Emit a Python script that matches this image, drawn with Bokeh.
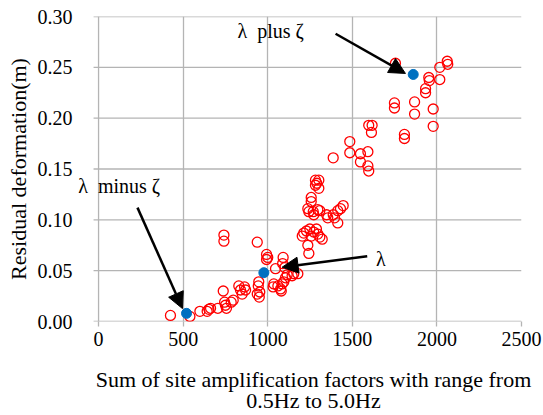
from bokeh.plotting import figure
from bokeh.models import Label, Arrow, NormalHead, FixedTicker, Span, LinearAxis
from bokeh.embed import file_html
from bokeh.resources import INLINE

# observed data (red open circles)
obs_x = [425, 540, 599, 642, 652, 662, 705, 737, 745, 750, 756, 784, 796,
         829, 839, 849, 863, 869, 944, 947, 953, 938, 950, 741, 741, 938,
         993, 1000, 993, 1046, 1091, 1088, 1101, 1036, 1032, 1085, 1076, 1080,
         1060, 1115, 1144, 1154, 1178, 1105, 1095,
         1204, 1213, 1229, 1249, 1257, 1272, 1288, 1296, 1308, 1322, 1237, 1243,
         1237, 1243, 1269, 1272, 1296, 1308, 1348, 1355, 1387, 1395, 1414, 1430,
         1446, 1414, 1257, 1257, 1282, 1302, 1282, 1302, 1290,
         1387, 1485, 1485, 1548, 1592, 1548, 1592, 1597, 1597, 1617, 1613,
         1808, 1808, 1749, 1749, 1868, 1868, 1978, 1978, 1933, 1933, 1952, 1955,
         2017, 2017, 2061, 2064, 1755]
obs_y = [0.006, 0.005, 0.010, 0.010, 0.012, 0.013, 0.013, 0.030, 0.019, 0.016, 0.013, 0.019, 0.021,
         0.035, 0.031, 0.027, 0.034, 0.031, 0.035, 0.039, 0.029, 0.027, 0.024, 0.085, 0.079, 0.078,
         0.066, 0.063, 0.061, 0.052, 0.063, 0.057, 0.053, 0.037, 0.034, 0.037, 0.032, 0.030,
         0.035, 0.046, 0.045, 0.047, 0.047, 0.043, 0.039,
         0.084, 0.087, 0.089, 0.091, 0.084, 0.088, 0.091, 0.086, 0.083, 0.081, 0.075, 0.067,
         0.111, 0.108, 0.108, 0.105, 0.110, 0.109, 0.105, 0.102, 0.105, 0.102, 0.109, 0.111,
         0.114, 0.097, 0.122, 0.118, 0.139, 0.139, 0.134, 0.131, 0.136,
         0.161, 0.177, 0.166, 0.165, 0.167, 0.157, 0.153, 0.148, 0.193, 0.193, 0.186,
         0.184, 0.180, 0.215, 0.210, 0.216, 0.204, 0.209, 0.192, 0.229, 0.225, 0.240, 0.237,
         0.238, 0.250, 0.256, 0.253, 0.254]

# representative points (blue filled)
rep_x = [520, 977, 1860]
rep_y = [0.008, 0.048, 0.243]

x_ticks = [0, 500, 1000, 1500, 2000, 2500]
y_ticks = [0.00, 0.05, 0.10, 0.15, 0.20, 0.25, 0.30]
X_MIN, X_MAX = 0, 2500
Y_MIN, Y_MAX = 0.0, 0.30
x_title_1 = "Sum of site amplification factors with range from"
x_title_2 = "0.5Hz to 5.0Hz"
y_title = "Residual deformation(m)"

FONT = "Liberation Serif"
FS = "20px"
FS_TITLE = "22px"
GRID = "#b4b4b4"
NB = "\u00a0"

# frame widened to the left (by ~26 px) so the annotation text is not clipped
p = figure(width=543, height=415, x_range=(-154, X_MAX), y_range=(Y_MIN, Y_MAX),
           output_backend="svg", toolbar_location=None,
           min_border_left=72, min_border_right=22, min_border_top=16, min_border_bottom=10)
p.outline_line_color = None
p.background_fill_color = "white"
p.border_fill_color = "white"

for ax in (p.xaxis[0], p.yaxis[0]):
    ax.axis_line_color = None
    ax.minor_tick_line_color = None
    ax.major_label_text_font = FONT
    ax.major_label_text_font_size = FS
    ax.major_label_text_color = "black"
    ax.axis_label_text_font = FONT
    ax.axis_label_text_font_size = FS_TITLE
    ax.axis_label_text_font_style = "normal"
    ax.axis_label_text_color = "black"

p.xaxis.ticker = FixedTicker(ticks=x_ticks)
p.xaxis.major_tick_line_color = GRID
p.xaxis.major_tick_line_width = 1.3
p.xaxis.major_tick_out = 5
p.xaxis.major_tick_in = 0
p.xaxis.major_label_standoff = 5
p.xaxis.axis_label = NB * 6 + x_title_1
p.xaxis.axis_label_standoff = 18

# second line of the x title as a tick-less extra axis below
ax2 = LinearAxis(ticker=FixedTicker(ticks=[]), axis_line_color=None,
                 major_tick_line_color=None, minor_tick_line_color=None,
                 major_tick_out=0, major_tick_in=0, major_label_standoff=0,
                 axis_label=NB * 6 + x_title_2, axis_label_standoff=-7,
                 axis_label_text_font=FONT, axis_label_text_font_size=FS_TITLE,
                 axis_label_text_font_style="normal", axis_label_text_color="black",
                 axis_label_text_line_height=0.6)
p.add_layout(ax2, "below")

p.yaxis.ticker = FixedTicker(ticks=y_ticks)
p.yaxis.major_label_overrides = {v: f"{v:.2f}" for v in y_ticks}
p.yaxis.major_tick_line_color = None
p.yaxis.major_tick_out = 0
p.yaxis.major_tick_in = 0
p.yaxis.major_label_standoff = 0
p.yaxis.axis_label = y_title
p.yaxis.axis_label_standoff = 4

# grid: vertical lines at x ticks (>0), horizontal lines drawn from tick stub to right edge
p.xgrid.ticker = FixedTicker(ticks=[t for t in x_ticks if t > X_MIN])
p.xgrid.grid_line_color = GRID
p.xgrid.grid_line_width = 1.3
p.ygrid.grid_line_color = None

stub = -29.5  # 5 px tick stub left of the y axis
p.segment(x0=[stub] * len(y_ticks), y0=y_ticks, x1=[X_MAX] * len(y_ticks), y1=y_ticks,
          line_color=GRID, line_width=1.3)
p.add_layout(Span(location=X_MIN, dimension="height", line_color=GRID, line_width=1.3))

p.scatter(obs_x, obs_y, size=10, fill_color=None, line_color="#FF0000", line_width=1.3)
p.scatter(rep_x, rep_y, size=10, fill_color="#0070C0", line_color="#0070C0")

def arrow(x0, y0, x1, y1):
    p.add_layout(Arrow(x_start=x0, y_start=y0, x_end=x1, y_end=y1,
                       line_color="black", line_width=2.5,
                       end=NormalHead(size=16, fill_color="black", line_color="black")))

arrow(1401, 0.283, 1814, 0.244)
arrow(230, 0.112, 496, 0.0127)
arrow(1588, 0.0642, 1085, 0.0534)

def label(x, y, t):
    p.add_layout(Label(x=x, y=y, text=t, text_font=FONT, text_font_size=FS,
                       text_baseline="middle", text_align="left", text_color="black"))

label(821, 0.286, "λ" + NB * 2 + "plus ζ")
label(-120, 0.133, "λ" + NB * 2 + "minus ζ")
label(1640, 0.0615, "λ")

open("out.html", "w").write(file_html(p, INLINE))
